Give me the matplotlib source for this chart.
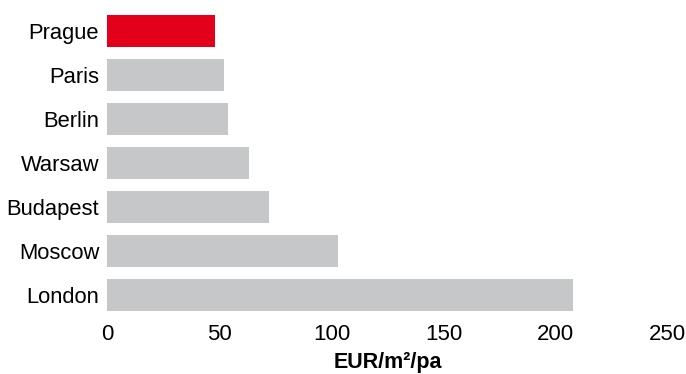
import matplotlib
matplotlib.use("Agg")
import matplotlib.pyplot as plt

plt.rcParams['font.family'] = ['Liberation Sans', 'DejaVu Sans']

cities = ["Prague", "Paris", "Berlin", "Warsaw", "Budapest", "Moscow", "London"]
rents = [48, 52, 54, 63, 72, 103, 208]
highlight = "Prague"
xticks = [0, 50, 100, 150, 200, 250]

fig = plt.figure(figsize=(6.86, 3.74), dpi=100)
ax = fig.add_axes([107.5/686, 1-317/374, (667.5-107.5)/686, (317-8.7)/374])

colors = ["#e2001a" if c == highlight else "#c6c7c9" for c in cities]
ax.barh(range(len(cities)), rents, height=0.727, color=colors)
ax.set_ylim(len(cities)-0.5, -0.5)
ax.set_xlim(0, 250)
ax.set_yticks(range(len(cities)))
ax.set_yticklabels(cities, fontsize=15.8)
ax.set_xticks(xticks)
ax.set_xticklabels([str(t) for t in xticks], fontsize=16)
ax.tick_params(length=0, pad=6)
ax.tick_params(axis='x', pad=5)
for s in ax.spines.values():
    s.set_visible(False)
ax.set_xlabel("EUR/m²/pa", fontsize=15.5, fontweight='bold', labelpad=5)

fig.savefig("out.png", dpi=100)
